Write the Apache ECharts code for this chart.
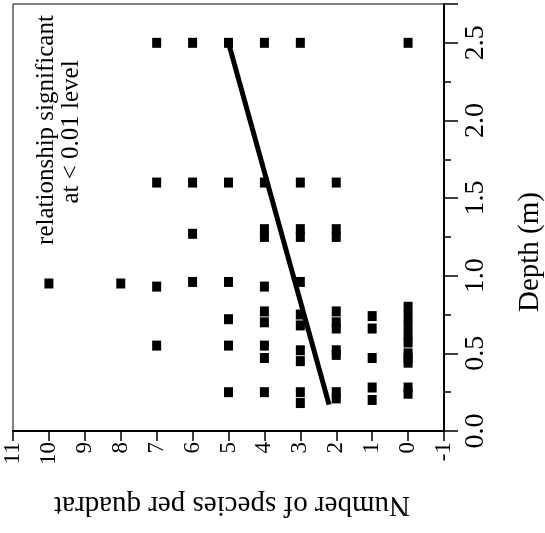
<!DOCTYPE html>
<html>
<head>
<meta charset="utf-8">
<script src="https://cdn.jsdelivr.net/npm/echarts@6/dist/echarts.min.js"></script>
<style>
  html, body { margin: 0; padding: 0; background: #fff; }
  #chart { width: 545px; height: 533px; }
</style>
</head>
<body>
<div id="chart"></div>
<script>
// Quadrat survey: species richness against depth (plot turned on its side)
const quadratSpecies = [
  7, 6, 5, 4, 3, 0,
  7, 6, 5, 4, 3, 2,
  6, 4, 4, 3, 3, 2, 2,
  10, 8, 7, 6, 5, 4, 3,
  5, 4, 4, 3, 3, 2, 2, 2, 1, 1, 0, 0, 0, 0, 0,
  7, 5, 4, 4, 3, 3, 2, 2, 1, 0, 0, 0,
  5, 4, 3, 3, 2, 2, 1, 1, 0, 0
];
const quadratDepth = [
  2.5, 2.5, 2.5, 2.5, 2.5, 2.5,
  1.6, 1.6, 1.6, 1.6, 1.6, 1.6,
  1.27, 1.25, 1.3, 1.25, 1.3, 1.25, 1.3,
  0.95, 0.95, 0.93, 0.96, 0.96, 0.93, 0.96,
  0.72, 0.77, 0.7, 0.75, 0.68, 0.77, 0.7, 0.66, 0.74, 0.66, 0.8, 0.74, 0.68, 0.62, 0.57,
  0.55, 0.55, 0.55, 0.47, 0.52, 0.45, 0.52, 0.49, 0.47, 0.47, 0.44, 0.5,
  0.25, 0.25, 0.25, 0.18, 0.25, 0.21, 0.28, 0.2, 0.28, 0.24
];

// Fitted regression line (end points)
const trendSpecies = [2.2, 5.0];
const trendDepth = [0.17, 2.5];

const speciesRange = [-1, 11];
const depthRange = [0, 2.75];

const axisTitle = 'Number of species per quadrat';
const depthTitle = 'Depth (m)';
const noteLines = ['relationship significant', 'at < 0.01 level'];

const serif = '"Liberation Serif", "DejaVu Serif", serif';

const points = quadratSpecies.map((s, i) => [s, quadratDepth[i]]);
const trend = trendSpecies.map((s, i) => [s, trendDepth[i]]);

const chart = echarts.init(document.getElementById('chart'), null, { renderer: 'canvas' });

chart.setOption({
  backgroundColor: '#fff',
  animation: false,
  grid: {
    left: 13, right: 101, top: 4, bottom: 102,
    show: true, borderColor: '#000', borderWidth: 1, backgroundColor: 'transparent'
  },
  xAxis: {
    type: 'value',
    position: 'bottom',
    inverse: true,
    min: speciesRange[0], max: speciesRange[1], interval: 1,
    axisLine: { show: true, onZero: false, lineStyle: { color: '#000', width: 2 } },
    axisTick: { show: true, inside: false, length: 10, lineStyle: { color: '#000', width: 1.5 } },
    splitLine: { show: false },
    axisLabel: {
      rotate: 90, margin: 11, color: '#000',
      fontFamily: serif, fontSize: 23
    }
  },
  yAxis: {
    type: 'value',
    position: 'right',
    min: depthRange[0], max: depthRange[1], interval: 0.5,
    axisLine: { show: true, onZero: false, lineStyle: { color: '#000', width: 2 } },
    axisTick: { show: true, inside: false, length: 14, lineStyle: { color: '#000', width: 1.5 } },
    minorTick: { show: true, splitNumber: 2, length: 7, lineStyle: { color: '#000', width: 1.5 } },
    splitLine: { show: false },
    axisLabel: {
      rotate: 90, margin: 18, color: '#000',
      fontFamily: serif, fontSize: 28,
      showMaxLabel: false,
      formatter: v => v.toFixed(1)
    }
  },
  series: [
    {
      type: 'scatter',
      data: points,
      symbol: 'rect',
      symbolSize: [9, 10],
      itemStyle: { color: '#000', opacity: 1 },
      z: 3
    },
    {
      type: 'line',
      data: trend,
      showSymbol: false,
      symbol: 'none',
      lineStyle: { color: '#000', width: 5 },
      z: 4
    }
  ],
  graphic: [
    {
      type: 'text', x: 232, y: 505, rotation: Math.PI,
      style: { text: axisTitle, fill: '#000', font: '29px ' + serif, textAlign: 'center', textVerticalAlign: 'middle' }
    },
    {
      type: 'text', x: 530, y: 252, rotation: Math.PI / 2,
      style: { text: depthTitle, fill: '#000', font: '29px ' + serif, textAlign: 'center', textVerticalAlign: 'middle' }
    },
    {
      type: 'text', x: 46, y: 130, rotation: Math.PI / 2,
      style: { text: noteLines[0], fill: '#000', font: '25px ' + serif, textAlign: 'center', textVerticalAlign: 'middle' }
    },
    {
      type: 'text', x: 71, y: 132, rotation: Math.PI / 2,
      style: { text: noteLines[1], fill: '#000', font: '25px ' + serif, textAlign: 'center', textVerticalAlign: 'middle' }
    }
  ]
});
</script>
</body>
</html>
